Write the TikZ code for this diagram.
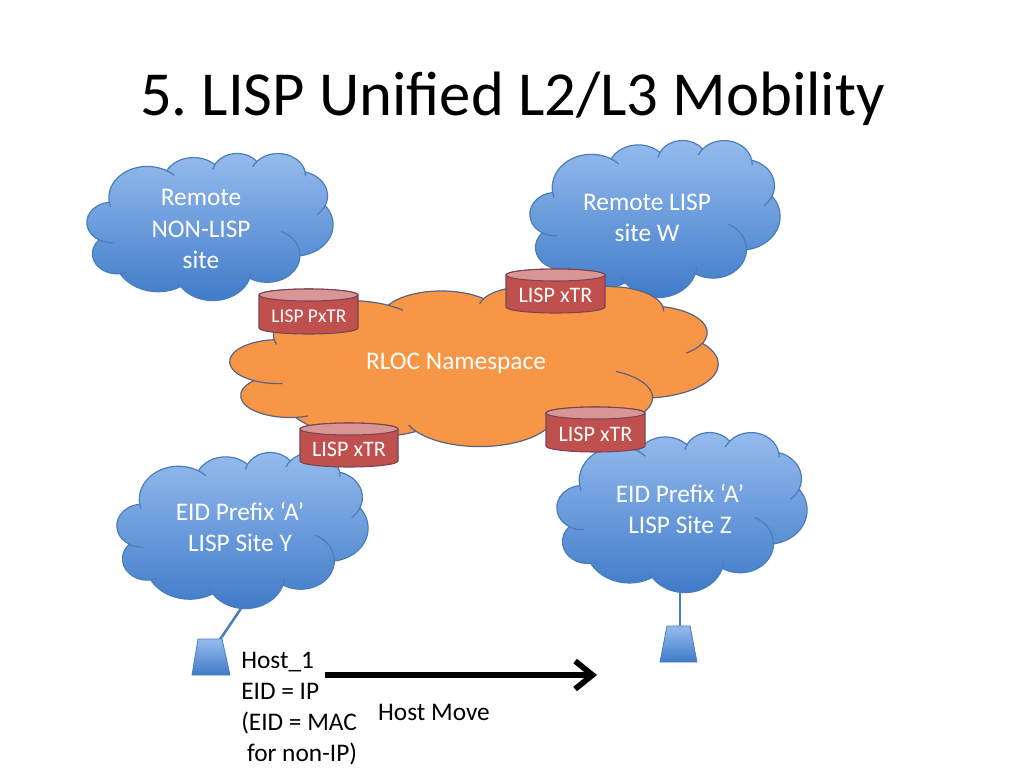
\documentclass[tikz,border=0pt]{standalone}
\usepackage{fontspec}
\setmainfont{Carlito}
\usetikzlibrary{arrows.meta}
\frenchspacing
\definecolor{cltop}{RGB}{150,188,238}
\definecolor{clbot}{RGB}{62,122,200}
\definecolor{clline}{RGB}{74,126,187}
\definecolor{orfill}{RGB}{247,150,70}
\definecolor{orline}{RGB}{90,100,130}
\definecolor{canbody}{RGB}{192,80,77}
\definecolor{cantop}{RGB}{218,150,150}
\definecolor{canline}{RGB}{120,70,80}
\tikzset{
  bluefill/.style={top color=cltop, bottom color=clbot},
  orangefill/.style={fill=orfill},
  cloudtext/.style={text=white, inner sep=0pt, align=center, font=\fontsize{19}{23.3}\selectfont},
  cantext/.style={text=white, inner sep=0pt},
  hosttext/.style={inner sep=0pt, align=left, font=\fontsize{19}{23.3}\selectfont},
  link/.style={draw=clline, line width=1.9pt},
  movearrow/.style={line width=4.3pt, -{Straight Barb[length=13pt,width=21pt]}},
}
% PowerPoint-style cloud in a 100x100 box
\newcommand\pptcloud[6]{%
  \begin{scope}[shift={(#1,#2)},xscale=#3/100,yscale=#4/100]
    \path[#5, draw=#6, line width=0.9pt] (9.028,33.264)
      arc[start angle=-187.75, delta angle=128.11, x radius=15.632, y radius=21.273]
      arc[start angle=-152.05, delta angle=106.60, x radius=12.345, y radius=16.822]
      arc[start angle=-153.50, delta angle=116.19, x radius=10.104, y radius=13.762]
      arc[start angle=-139.71, delta angle=129.50, x radius=11.243, y radius=15.266]
      arc[start angle=-74.77, delta angle=97.98, x radius=12.345, y radius=16.836]
      arc[start angle=-37.52, delta angle=119.38, x radius=15.683, y radius=21.343]
      arc[start angle=0.46, delta angle=121.52, x radius=13.391, y radius=18.211]
      arc[start angle=16.84, delta angle=129.38, x radius=15.630, y radius=21.331]
      arc[start angle=59.00, delta angle=91.20, x radius=17.870, y radius=24.405]
      arc[start angle=83.31, delta angle=139.78, x radius=10.093, y radius=13.699]
      arc[start angle=120.36, delta angle=143.75, x radius=10.058, y radius=13.762]
      -- cycle;
    \draw[draw=#6, line width=0.9pt]
      (10.760,60.982) arc[start angle=85.54, delta angle=34.82, x radius=10.058, y radius=13.762]
      (16.008,81.217) arc[start angle=68.24, delta angle=15.07, x radius=10.093, y radius=13.699]
      (38.156,90.889) arc[start angle=146.22, delta angle=12.25, x radius=15.630, y radius=21.331]
      (66.724,80.792) arc[start angle=4.74, delta angle=12.10, x radius=15.630, y radius=21.331]
      (79.064,53.392) arc[start angle=-64.03, delta angle=64.49, x radius=13.391, y radius=18.211]
      (96.808,35.782) arc[start angle=23.21, delta angle=26.43, x radius=12.345, y radius=16.836]
      (88.705,12.903) arc[start angle=-10.21, delta angle=11.03, x radius=11.243, y radius=15.266]
      (67.346,9.470) arc[start angle=-156.29, delta angle=16.58, x radius=11.243, y radius=15.266]
      (51.155,11.152) arc[start angle=-167.72, delta angle=14.22, x radius=10.104, y radius=13.762]
      (32.421,12.043) arc[start angle=-59.64, delta angle=13.90, x radius=15.632, y radius=21.273]
      (9.553,36.549) arc[start angle=163.19, delta angle=9.06, x radius=15.632, y radius=21.273];
  \end{scope}}
% cylinder: left, top, width, height
\newcommand\lispcan[4]{%
  \path[fill=canbody, draw=canline, line width=0.8pt] (#1,#2+6) -- (#1,#2+#4-6)
    arc[start angle=180, delta angle=-180, x radius=#3/2, y radius=6] -- (#1+#3,#2+6)
    arc[start angle=0, delta angle=-180, x radius=#3/2, y radius=6] -- cycle;
  \path[fill=cantop, draw=canline, line width=0.8pt] (#1+#3/2,#2+6) ellipse [x radius=#3/2, y radius=6];}
\begin{document}
\begin{tikzpicture}[x=0.75pt,y=-0.75pt]
\useasboundingbox[fill=white] (0,0) rectangle (1024,768);
% title
\node[anchor=base, inner sep=0pt, font=\fontsize{47}{56}\selectfont] (title) at (512.5,115) {5. LISP Unified L2/L3 Mobility};
% blue clouds
\pptcloud{87}{153}{246}{147}{bluefill}{clline}
\pptcloud{530}{140}{250}{157}{bluefill}{clline}
\pptcloud{117}{452}{251}{156}{bluefill}{clline}
\pptcloud{557}{432}{250}{160}{bluefill}{clline}
% RLOC cloud
\pptcloud{230}{286}{488}{160}{orangefill}{orline}
% cloud labels
\node[cloudtext] (nonlisp) at (201,229) {Remote\\NON-LISP\\site};
\node[cloudtext] (sitew) at (647,218) {Remote LISP\\site W};
\node[cloudtext] (rloc) at (456,363) {RLOC Namespace};
\node[cloudtext] (sitey) at (240,527) {EID Prefix ‘A’\\LISP Site Y};
\node[cloudtext] (sitez) at (680,509) {EID Prefix ‘A’\\LISP Site Z};
% routers
\lispcan{259}{289}{99}{45}
\node[cantext, font=\fontsize{14.6}{17}\selectfont] (pxtr) at (309,316) {LISP PxTR};
\lispcan{506}{269}{99}{44}
\node[cantext, font=\fontsize{16.6}{19}\selectfont] (xtrw) at (555.5,295) {LISP xTR};
\lispcan{300}{423}{98}{44}
\node[cantext, font=\fontsize{16.6}{19}\selectfont] (xtry) at (349,449) {LISP xTR};
\lispcan{546}{407}{99}{45}
\node[cantext, font=\fontsize{16.6}{19}\selectfont] (xtrz) at (595.5,434) {LISP xTR};
% host links
\coordinate (ybot) at (244,604);
\coordinate (h1top) at (219,641);
\coordinate (zbot) at (680,590);
\coordinate (h2top) at (680,627);
\draw[link] (h1top) -- (ybot);
\draw[link] (h2top) -- (zbot);
% hosts
\path[bluefill, draw=clline, line width=0.6pt] (198,639) -- (222,639) -- (230,675) -- (192,675) -- cycle;
\path[bluefill, draw=clline, line width=0.6pt] (667,626) -- (690,626) -- (697,662) -- (660,662) -- cycle;
% host text
\node[hosttext, anchor=west] (host) at (241,708.5) {Host\_1\\EID = IP\\(EID = MAC\\\hspace*{0.23em}for non-IP)};
% move arrow
\coordinate (mvA) at (325,675);
\coordinate (mvB) at (597,675);
\draw[movearrow] (mvA) -- (mvB);
\node[inner sep=0pt, font=\fontsize{19}{23.3}\selectfont] (move) at (434,712) {Host Move};
\end{tikzpicture}
\end{document}
